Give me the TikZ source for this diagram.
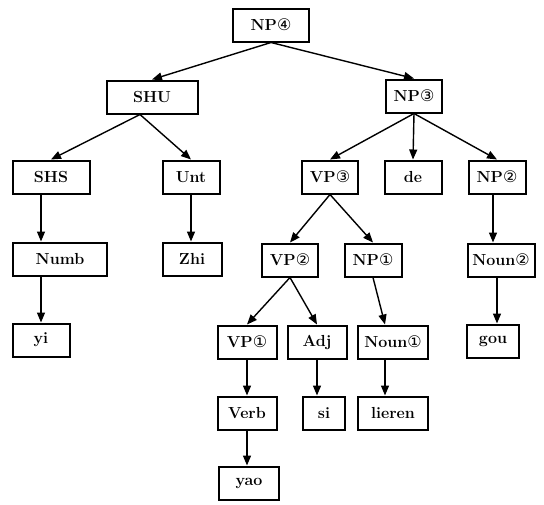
\documentclass[tikz,border=0pt]{standalone}
\usepackage{fontspec}
\newfontfamily\circfont{DejaVu Sans}
\usetikzlibrary{arrows.meta}
\newcommand{\cnum}[1]{{\circfont\mdseries #1}}
\tikzset{
  box/.style={draw, line width=2pt, minimum height=33pt, inner sep=2pt,
    font=\fontsize{16}{18}\selectfont\bfseries},
  link/.style={line width=1.4pt, -{Triangle[length=10pt,width=8pt]}},
}

\begin{document}
\begin{tikzpicture}[x=1pt,y=-1pt]
  \useasboundingbox (0,0) rectangle (544,504);
  % row 0 and 1
  \node[box, minimum width=76] (np4) at (271,25) {NP\cnum{④}};
  \node[box, minimum width=91] (shu) at (152,97) {SHU};
  \node[box, minimum width=56] (np3) at (414,96) {NP\cnum{③}};
  % row 2
  \node[box, minimum width=77] (shs) at (51,177) {SHS};
  \node[box, minimum width=57] (unt) at (191,177) {Unt};
  \node[box, minimum width=56] (vp3) at (330,177) {VP\cnum{③}};
  \node[box, minimum width=57] (de) at (413,177) {de};
  \node[box, minimum width=57] (np2) at (497,177) {NP\cnum{②}};
  % row 3
  \node[box, minimum width=94] (numb) at (60,259) {Numb};
  \node[box, minimum width=59] (zhi) at (192,259) {Zhi};
  \node[box, minimum width=56] (vp2) at (290,260) {VP\cnum{②}};
  \node[box, minimum width=57] (np1) at (373,260) {NP\cnum{①}};
  \node[box, minimum width=67] (noun2) at (501,260) {Noun\cnum{②}};
  % row 4
  \node[box, minimum width=57] (yi) at (41,340) {yi};
  \node[box, minimum width=59] (vp1) at (247,342) {VP\cnum{①}};
  \node[box, minimum width=59] (adj) at (317,342) {Adj};
  \node[box, minimum width=70] (noun1) at (393,342) {Noun\cnum{①}};
  \node[box, minimum width=52] (gou) at (493,341) {gou};
  % row 5 and 6
  \node[box, minimum width=59] (verb) at (247,413) {Verb};
  \node[box, minimum width=42] (si) at (324,413) {si};
  \node[box, minimum width=70] (lieren) at (393,413) {lieren};
  \node[box, minimum width=60] (yao) at (249,483) {yao};

  % links
  \draw[link] (np4.south) -- (shu.north);
  \draw[link] (np4.south) -- (np3.north);
  \draw[link] ([xshift=-12pt]shu.south) -- (shs.north);
  \draw[link] ([xshift=-12pt]shu.south) -- (unt.north);
  \draw[link] (shs.south -| yi) -- (numb.north -| yi);
  \draw[link] (numb.south -| yi) -- (yi.north);
  \draw[link] (unt.south) -- (unt.south |- zhi.north);
  \draw[link] (np3.south) -- (vp3.north);
  \draw[link] (np3.south) -- (de.north);
  \draw[link] (np3.south) -- (np2.north);
  \draw[link] (vp3.south) -- (vp2.north);
  \draw[link] (vp3.south) -- (np1.north);
  \draw[link] (vp2.south) -- (vp1.north);
  \draw[link] (vp2.south) -- (adj.north);
  \draw[link] (np1.south) -- ([xshift=-8pt]noun1.north);
  \draw[link] (vp1) -- (verb);
  \draw[link] (verb) -- (verb |- yao.north);
  \draw[link] (adj.south) -- (adj.south |- si.north);
  \draw[link] ([xshift=-8pt]noun1.south) -- ([xshift=-8pt]lieren.north);
  \draw[link] (np2.south -| gou) -- (noun2.north -| gou);
  \draw[link] (noun2.south -| np2) -- (gou.north -| np2);
\end{tikzpicture}
\end{document}
